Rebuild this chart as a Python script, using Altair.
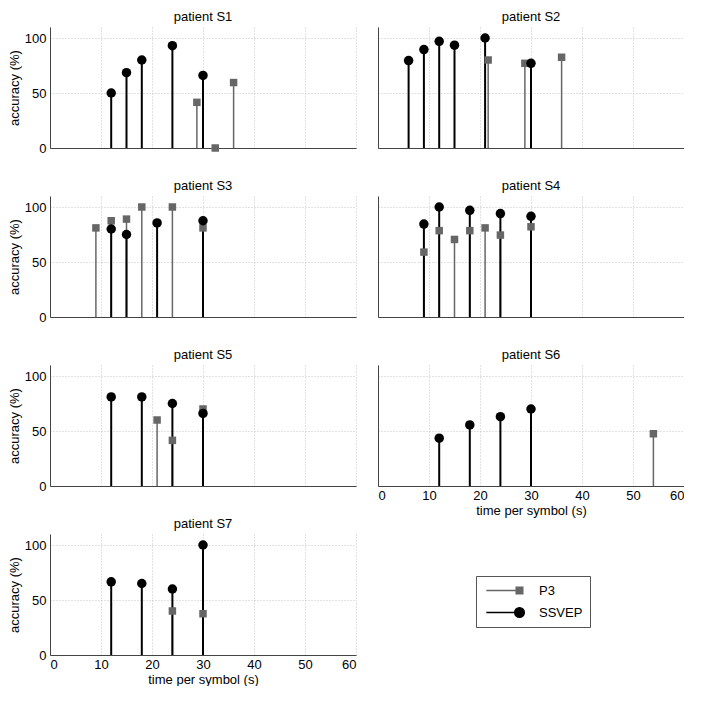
import altair as alt
import pandas as pd

patients = ["S1", "S2", "S3", "S4", "S5", "S6", "S7"]
series_names = ["P3", "SSVEP"]

# P3 stems
p3_time = {
    "S1": [28.8, 32.4, 36],
    "S2": [21.6, 28.8, 36],
    "S3": [9, 12, 15, 18, 24, 30],
    "S4": [9, 12, 15, 18, 21, 24, 30],
    "S5": [21, 24, 30],
    "S6": [54],
    "S7": [24, 30],
}
p3_acc = {
    "S1": [41.5, 0, 59.5],
    "S2": [80, 77, 82.5],
    "S3": [81, 87.5, 89, 100, 100, 81],
    "S4": [59, 78.5, 70.5, 78.5, 81, 74.5, 82],
    "S5": [60, 41.5, 70],
    "S6": [47.5],
    "S7": [40, 37.5],
}
# SSVEP stems
ssvep_time = {
    "S1": [12, 15, 18, 24, 30],
    "S2": [6, 9, 12, 15, 21, 30],
    "S3": [12, 15, 21, 30],
    "S4": [9, 12, 18, 24, 30],
    "S5": [12, 18, 24, 30],
    "S6": [12, 18, 24, 30],
    "S7": [12, 18, 24, 30],
}
ssvep_acc = {
    "S1": [50, 68.5, 80, 93, 66],
    "S2": [79.5, 89.5, 97, 93.5, 100, 77],
    "S3": [80, 75, 85.5, 87.5],
    "S4": [84.5, 100, 97, 94, 91.5],
    "S5": [81, 81, 75, 66],
    "S6": [43.5, 55.5, 63, 70],
    "S7": [66.5, 65, 60, 100],
}

x_ticks = [0, 10, 20, 30, 40, 50, 60]
y_ticks = [0, 50, 100]

rows = []
for p in patients:
    for t, a in zip(p3_time[p], p3_acc[p]):
        rows.append({"patient": p, "series": "P3", "time": t, "acc": a})
    for t, a in zip(ssvep_time[p], ssvep_acc[p]):
        rows.append({"patient": p, "series": "SSVEP", "time": t, "acc": a})
df = pd.DataFrame(rows)

FONT = "Liberation Sans"
P3_COLOR = "#666666"
SS_COLOR = "#000000"
W, H = 306, 121

# legend glyphs (unit = 6.5 px): a line ending in the marker, marker at the origin
sq_path = "M-5.1,0H0M-0.52,-0.52H0.52V0.52H-0.52Z"
ci_path = "M-5.1,0H0M-0.75,0A0.75,0.75 0 1 0 0.75,0A0.75,0.75 0 1 0 -0.75,0Z"

color_scale = alt.Scale(domain=series_names, range=[P3_COLOR, SS_COLOR])
shape_scale = alt.Scale(domain=series_names, range=[sq_path, ci_path])

legend = alt.Legend(
    title=None,
    orient="none",
    legendX=98,
    legendY=42,
    strokeColor="#555555",
    fillColor="white",
    padding=7,
    labelFontSize=13,
    labelFont=FONT,
    labelColor="black",
    labelOffset=12,
    symbolOffset=29,
    symbolSize=169,
    symbolStrokeWidth=1.3,
    symbolOpacity=1,
    rowPadding=7,
)


def xenc(show_x, axis=True):
    return alt.X(
        "time:Q",
        scale=alt.Scale(domain=[0, 60], nice=False, zero=False),
        axis=alt.Axis(
            values=x_ticks,
            labels=show_x,
            title="time per symbol (s)" if show_x else None,
            format="d",
        ) if axis else None,
    )


def yenc(col, axis=True):
    return alt.Y(
        "acc:Q",
        scale=alt.Scale(domain=[0, 110], nice=False),
        axis=alt.Axis(
            values=y_ticks,
            labels=(col == 0),
            title="accuracy (%)" if col == 0 else None,
        ) if axis else None,
    )


def panel(pid, col, show_x):
    base = alt.Chart(df).transform_filter(alt.datum.patient == pid)
    x = xenc(show_x)
    y = yenc(col)
    color = alt.Color("series:N", scale=color_scale, legend=None)
    r_p3 = base.transform_filter(alt.datum.series == "P3").mark_rule(strokeWidth=1.5).encode(
        x=x, y=y, y2=alt.datum(0), color=color
    )
    r_ss = base.transform_filter(alt.datum.series == "SSVEP").mark_rule(strokeWidth=2).encode(
        x=x, y=y, y2=alt.datum(0), color=color
    )
    pt_p3 = base.transform_filter(alt.datum.series == "P3").mark_point(
        shape="square", filled=True, opacity=1, size=56
    ).encode(x=x, y=y, color=color)
    pt_ss = base.transform_filter(alt.datum.series == "SSVEP").mark_point(
        shape="circle", filled=True, opacity=1, size=90
    ).encode(x=x, y=y, color=color)
    return alt.layer(r_p3, r_ss, pt_p3, pt_ss).properties(
        width=W,
        height=H,
        title=alt.TitleParams(f"patient {pid}", fontSize=13, font=FONT, fontWeight="normal",
                              color="black", offset=3, anchor="middle"),
    )


panels = []
for i, p in enumerate(patients):
    col = i % 2
    show_x = p in ("S6", "S7")
    panels.append(panel(p, col, show_x))

# eighth cell: holds only the legend (no rows pass the filter)
legend_cell = alt.Chart(df).transform_filter("datum.time < 0").mark_point(
    filled=True, opacity=1
).encode(
    x=xenc(False, axis=False),
    y=yenc(1, axis=False),
    color=alt.Color("series:N", scale=color_scale, legend=legend),
    stroke=alt.Stroke("series:N", scale=color_scale, legend=legend),
    shape=alt.Shape("series:N", scale=shape_scale, legend=legend),
).properties(width=W, height=H)
panels.append(legend_cell)

chart = alt.concat(*panels, columns=2, spacing={"row": 48, "column": 22}, bounds="flush").resolve_legend(
    color="independent", stroke="independent", shape="independent"
).properties(
    padding={"left": 0, "top": 3, "right": 0, "bottom": 0},
).configure_view(stroke=None).configure_axis(
    domainColor="#444444",
    domainWidth=1,
    gridColor="#c4c4c4",
    gridDash=[1, 2],
    gridWidth=1,
    ticks=False,
    tickSize=0,
    labelFont=FONT,
    labelFontSize=13,
    labelColor="black",
    labelPadding=4,
    titleFont=FONT,
    titleFontSize=13,
    titleFontWeight="normal",
    titleColor="black",
    titlePadding=3,
).configure_axisX(labelPadding=3, titlePadding=2)

chart.save("out.html", embed_options={"renderer": "svg", "actions": False})
